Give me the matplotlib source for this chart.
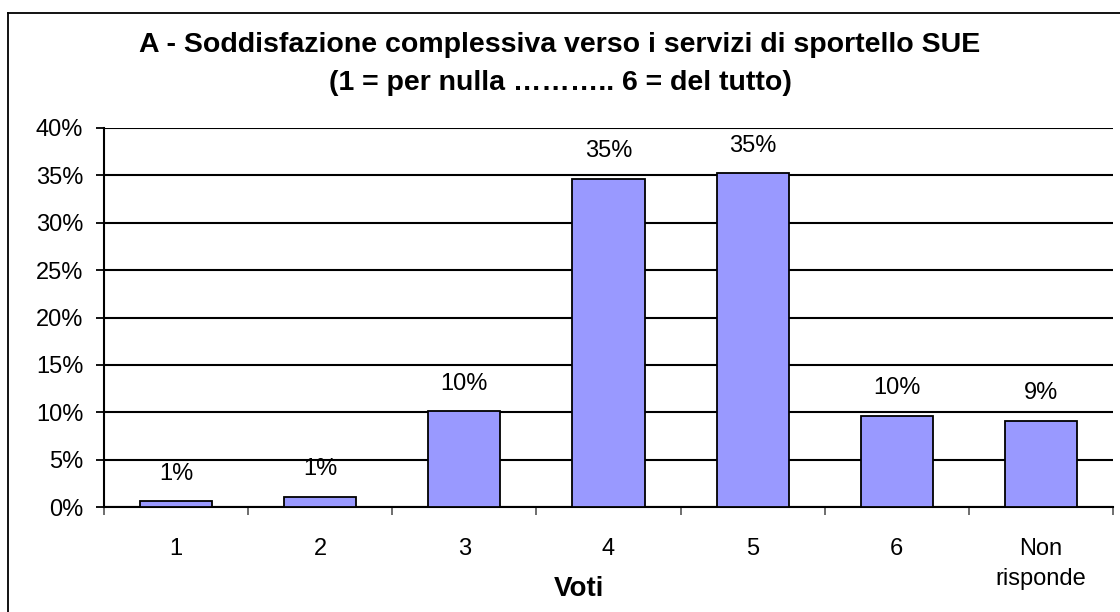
import matplotlib.pyplot as plt
from matplotlib.lines import Line2D
from matplotlib.ticker import FuncFormatter

plt.rcParams['font.family'] = ['Liberation Sans', 'DejaVu Sans']

categorie = ['1', '2', '3', '4', '5', '6', 'Non\nrisponde']
valori = [0.6, 1.1, 10.1, 34.6, 35.2, 9.6, 9.1]
etichette = ['1%', '1%', '10%', '35%', '35%', '10%', '9%']

W, H = 1120, 612
fig = plt.figure(figsize=(W / 100, H / 100), dpi=100)
ax = fig.add_axes([104 / W, 1 - 507 / H, (1113 - 104) / W, (507 - 128) / H])

# cornice esterna (solo lati visibili)
fig.lines.append(Line2D([8 / W, 8 / W], [0, 1 - 13 / H], transform=fig.transFigure,
                        color='black', linewidth=1.3))
fig.lines.append(Line2D([8 / W, 1], [1 - 13 / H, 1 - 13 / H], transform=fig.transFigure,
                        color='black', linewidth=1.3))

x = range(len(categorie))
ax.bar(x, valori, width=0.5, color='#9999FF', edgecolor='black', linewidth=1.3, zorder=3)
for xi, v, lab in zip(x, valori, etichette):
    ax.annotate(lab, (xi, v), xytext=(0, 12), textcoords='offset points',
                ha='center', va='bottom', fontsize=17)

ax.set_xlim(-0.5, len(categorie) - 0.5)
ax.set_ylim(0, 40)
ax.set_yticks(range(0, 41, 5))
ax.yaxis.set_major_formatter(FuncFormatter(lambda v, p: f'{int(v)}%'))
ax.yaxis.grid(True, color='black', linewidth=1.5, zorder=0)
ax.set_xticks(x)
ax.set_xticklabels(categorie, fontsize=17, linespacing=1.5)
ax.set_xticks([i - 0.5 for i in range(len(categorie) + 1)], minor=True)
ax.tick_params(axis='x', which='major', length=0, pad=22)
ax.tick_params(axis='x', which='minor', length=6, width=1.2, color='#555555')
ax.tick_params(axis='y', labelsize=17, length=6, width=1.3, pad=9)
for s in ['top', 'right']:
    ax.spines[s].set_visible(False)
ax.spines['left'].set_linewidth(1.5)
ax.spines['bottom'].set_linewidth(1.5)

fig.text(579 / W, 1 - 589 / H, 'Voti', ha='center', va='center', fontsize=20, fontweight='bold')
fig.text(560 / W, 1 - 45 / H, 'A - Soddisfazione complessiva verso i servizi di sportello SUE',
         ha='center', va='center', fontsize=20.5, fontweight='bold')
fig.text(560 / W, 1 - 83 / H, '(1 = per nulla ……….. 6 = del tutto)',
         ha='center', va='center', fontsize=20.5, fontweight='bold')

fig.savefig('out.png', dpi=100)
